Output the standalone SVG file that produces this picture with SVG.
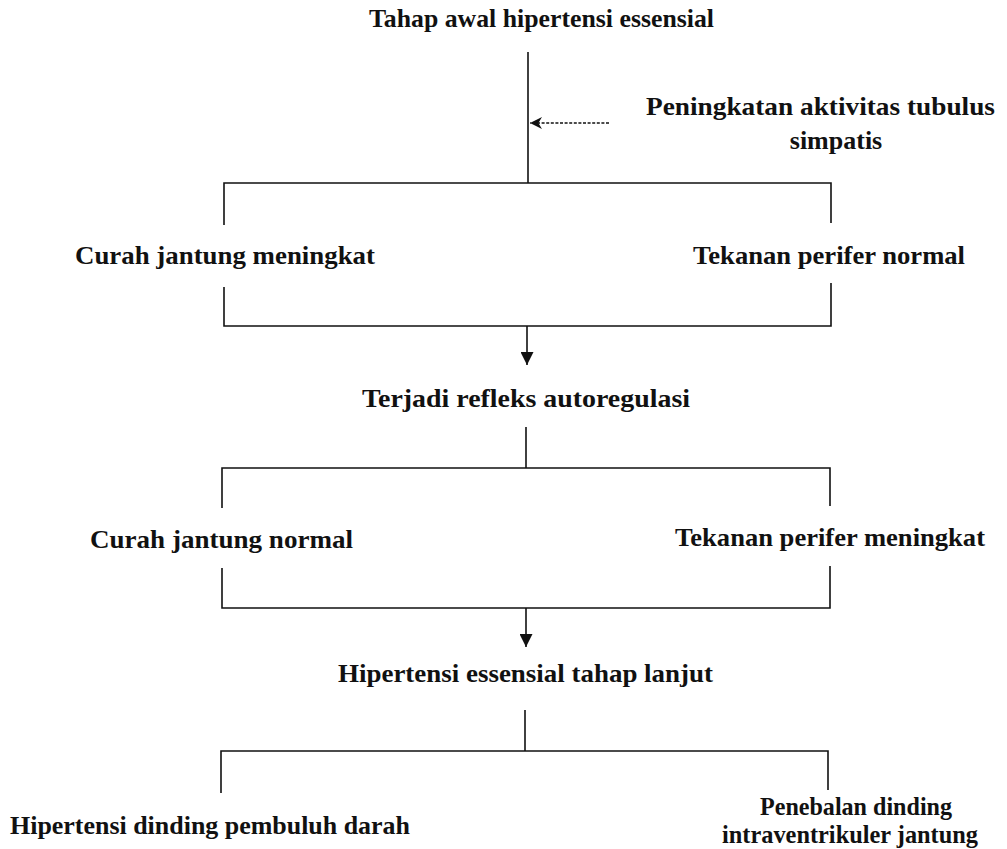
<svg xmlns="http://www.w3.org/2000/svg" width="1007" height="849" viewBox="0 0 1007 849">
  <style>
    .lbl { font-family: "Liberation Serif", "Times New Roman", serif; font-weight: bold; font-size: 26px; fill: #111; }
    .mid { text-anchor: middle; }
    .ln { stroke: #111; stroke-width: 1.6; fill: none; }
    .dash { stroke: #111; stroke-width: 1.3; fill: none; stroke-dasharray: 3 1.6; }
  </style>
  <defs>
    <marker id="head" viewBox="0 0 10 10" refX="10" refY="5" markerWidth="13" markerHeight="13" markerUnits="userSpaceOnUse" orient="auto">
      <path d="M0,0 L10,5 L0,10 Z" fill="#111"/>
    </marker>
    <marker id="headSmall" viewBox="0 0 10 10" refX="10" refY="5" markerWidth="14" markerHeight="12" markerUnits="userSpaceOnUse" orient="auto">
      <path d="M0,0 L10,5 L0,10 L3,5 Z" fill="#111"/>
    </marker>
  </defs>
  <rect width="1007" height="849" fill="#fff"/>

  <!-- nodes -->
  <g id="tahap-awal">
    <text class="lbl" x="369" y="27" textLength="345" lengthAdjust="spacingAndGlyphs">Tahap awal hipertensi essensial</text>
  </g>
  <g id="aktivitas-simpatis">
    <text class="lbl" x="646" y="115" textLength="349" lengthAdjust="spacingAndGlyphs">Peningkatan aktivitas tubulus</text>
    <text class="lbl mid" x="836" y="149">simpatis</text>
  </g>
  <g id="curah-meningkat">
    <text class="lbl" x="75" y="264" textLength="300" lengthAdjust="spacingAndGlyphs">Curah jantung meningkat</text>
  </g>
  <g id="tekanan-normal">
    <text class="lbl" x="693" y="264" textLength="272" lengthAdjust="spacingAndGlyphs">Tekanan perifer normal</text>
  </g>
  <g id="autoregulasi">
    <text class="lbl" x="362" y="407" textLength="328" lengthAdjust="spacingAndGlyphs">Terjadi refleks autoregulasi</text>
  </g>
  <g id="curah-normal">
    <text class="lbl" x="90" y="548" textLength="263" lengthAdjust="spacingAndGlyphs">Curah jantung normal</text>
  </g>
  <g id="tekanan-meningkat">
    <text class="lbl" x="675" y="546" textLength="310" lengthAdjust="spacingAndGlyphs">Tekanan perifer meningkat</text>
  </g>
  <g id="tahap-lanjut">
    <text class="lbl" x="338" y="682" textLength="375" lengthAdjust="spacingAndGlyphs">Hipertensi essensial tahap lanjut</text>
  </g>
  <g id="dinding-pembuluh">
    <text class="lbl" x="10" y="834" textLength="400" lengthAdjust="spacingAndGlyphs">Hipertensi dinding pembuluh darah</text>
  </g>
  <g id="penebalan-dinding">
    <text class="lbl" x="760" y="815" textLength="192" lengthAdjust="spacingAndGlyphs">Penebalan dinding</text>
    <text class="lbl" x="722" y="843" textLength="256" lengthAdjust="spacingAndGlyphs">intraventrikuler jantung</text>
  </g>

  <!-- connectors -->
  <g id="connectors">
    <!-- stem from the first stage, with the sympathetic input -->
    <path class="ln" d="M528,52 V183"/>
    <path class="dash" d="M609,123 H530" marker-end="url(#headSmall)"/>

    <!-- first split -->
    <path class="ln" d="M224,225 V183 H831 V223"/>
    <path class="ln" d="M224,287 V326 H831 V283"/>
    <path class="ln" d="M527,326 V365" marker-end="url(#head)"/>

    <!-- second split -->
    <path class="ln" d="M526,427 V468"/>
    <path class="ln" d="M222,508 V468 H830 V506"/>
    <path class="ln" d="M222,568 V608 H830 V566"/>
    <path class="ln" d="M526,608 V647" marker-end="url(#head)"/>

    <!-- final split -->
    <path class="ln" d="M525,710 V751"/>
    <path class="ln" d="M221,793 V751 H828 V790"/>
  </g>
</svg>
